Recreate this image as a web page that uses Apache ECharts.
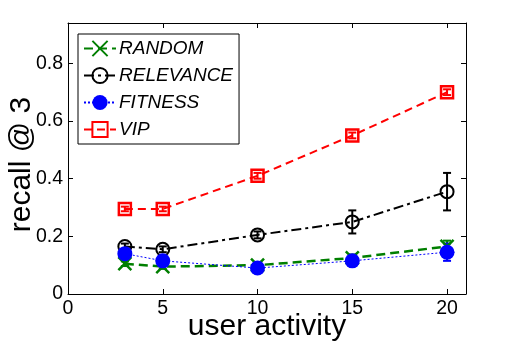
<!DOCTYPE html>
<html>
<head>
<meta charset="utf-8">
<script src="https://cdn.jsdelivr.net/npm/echarts@6/dist/echarts.min.js"></script>
<style>
  html, body { margin: 0; padding: 0; background: #fff; }
  #chart { width: 514px; height: 348px; }
</style>
</head>
<body>
<div id="chart"></div>
<script>
// user activity levels
const activity = [3, 5, 10, 15, 20];

// recall @ 3 per method
const randomVals = [0.105, 0.095, 0.100, 0.125, 0.165];
const relevanceVals = [0.165, 0.155, 0.205, 0.250, 0.355];
const fitnessVals = [0.140, 0.115, 0.090, 0.115, 0.145];
const vipVals = [0.295, 0.295, 0.410, 0.550, 0.700];

// error bar half widths
const randomErr = [0.008, 0.008, 0.008, 0.012, 0.02];
const relevanceErr = [0.01, 0.01, 0.012, 0.04, 0.065];
const fitnessErr = [0.008, 0.008, 0.008, 0.01, 0.03];
const vipErr = [0.008, 0.008, 0.01, 0.01, 0.01];

const FONT = 'Liberation Sans';

function pairs(vals) {
  return activity.map((x, i) => [x, vals[i]]);
}

function errData(vals, err) {
  return activity.map((x, i) => [x, vals[i] - err[i], vals[i] + err[i]]);
}

function errSeries(name, vals, err, color) {
  return {
    name: name,
    type: 'custom',
    z: 1,
    renderItem: function (params, api) {
      const x = api.value(0);
      const lo = api.coord([x, api.value(1)]);
      const hi = api.coord([x, api.value(2)]);
      const w = 4;
      const style = {stroke: color, lineWidth: 2};
      return {
        type: 'group',
        children: [
          {type: 'line', shape: {x1: lo[0], y1: lo[1], x2: hi[0], y2: hi[1]}, style: style},
          {type: 'line', shape: {x1: lo[0] - w, y1: lo[1], x2: lo[0] + w, y2: lo[1]}, style: style},
          {type: 'line', shape: {x1: hi[0] - w, y1: hi[1], x2: hi[0] + w, y2: hi[1]}, style: style},
        ]
      };
    },
    data: errData(vals, err),
    silent: true,
  };
}

const chart = echarts.init(document.getElementById('chart'));

const axisLine = {show: true, onZero: false, lineStyle: {color: '#000', width: 1}};

chart.setOption({
  backgroundColor: '#fff',
  animation: false,
  grid: {left: 68, right: 48, top: 23, bottom: 54, outerBoundsMode: 'none', containLabel: false},
  legend: {
    data: ['RANDOM', 'RELEVANCE', 'FITNESS', 'VIP'],
    orient: 'vertical',
    left: 78,
    top: 34,
    padding: [5, 6, 5, 5],
    itemGap: 8,
    itemWidth: 32,
    itemHeight: 19,
    borderColor: '#000',
    borderWidth: 1,
    backgroundColor: '#fff',
    textStyle: {fontFamily: FONT, fontStyle: 'italic', fontSize: 19, color: '#000', padding: [0, 0, 0, -2]},
  },
  xAxis: [
    {
      type: 'value', min: 0, max: 21, interval: 5,
      name: 'user activity', nameLocation: 'middle', nameGap: 18, nameMoveOverlap: false,
      nameTextStyle: {fontFamily: FONT, fontSize: 30, color: '#000', verticalAlign: 'top'},
      axisLine: axisLine,
      axisTick: {inside: true, length: 5, lineStyle: {color: '#000'}},
      axisLabel: {fontFamily: FONT, fontSize: 19.5, color: '#000', margin: 5, showMaxLabel: false},
      splitLine: {show: false},
    },
    {
      type: 'value', min: 0, max: 21, interval: 5, position: 'top',
      axisLine: axisLine,
      axisTick: {inside: true, length: 5, lineStyle: {color: '#000'}},
      axisLabel: {show: false},
      splitLine: {show: false},
    },
  ],
  yAxis: [
    {
      type: 'value', min: 0, max: 0.94, interval: 0.2,
      name: 'recall @ 3', nameLocation: 'middle', nameGap: 31, nameMoveOverlap: false,
      nameTextStyle: {fontFamily: FONT, fontSize: 30, color: '#000', padding: [0, 12, 0, 0]},
      axisLine: axisLine,
      axisTick: {inside: true, length: 5, lineStyle: {color: '#000'}},
      axisLabel: {fontFamily: FONT, fontSize: 19.5, color: '#000', margin: 5, showMaxLabel: false},
      splitLine: {show: false},
    },
    {
      type: 'value', min: 0, max: 0.94, interval: 0.2, position: 'right',
      axisLine: axisLine,
      axisTick: {inside: true, length: 5, lineStyle: {color: '#000'}},
      axisLabel: {show: false},
      splitLine: {show: false},
    },
  ],
  series: [
    errSeries('randomErr', randomVals, randomErr, '#007f00'),
    errSeries('relevanceErr', relevanceVals, relevanceErr, '#000'),
    errSeries('fitnessErr', fitnessVals, fitnessErr, '#0000ff'),
    errSeries('vipErr', vipVals, vipErr, '#ff0000'),
    {
      name: 'RANDOM', type: 'line', z: 3,
      data: pairs(randomVals),
      symbol: 'path://M0,0L10,10M10,0L0,10',
      symbolSize: 13,
      itemStyle: {color: 'rgba(0,0,0,0)', borderColor: '#007f00', borderWidth: 2.5},
      lineStyle: {color: '#007f00', width: 2.5, type: [9, 5]},
      color: '#007f00',
    },
    {
      name: 'RELEVANCE', type: 'line', z: 4,
      data: pairs(relevanceVals),
      symbol: 'circle',
      symbolSize: 13,
      itemStyle: {color: 'rgba(255,255,255,0)', borderColor: '#000', borderWidth: 2},
      lineStyle: {color: '#000', width: 2, type: [10, 4, 3, 4]},
      color: '#000',
    },
    {
      name: 'FITNESS', type: 'line', z: 5,
      data: pairs(fitnessVals),
      symbol: 'circle',
      symbolSize: 15,
      itemStyle: {color: '#0000ff', borderColor: '#0000ff', borderWidth: 0},
      lineStyle: {color: '#0000ff', width: 1, type: [2, 2]},
      color: '#0000ff',
    },
    {
      name: 'VIP', type: 'line', z: 6,
      data: pairs(vipVals),
      symbol: 'rect',
      symbolSize: 12,
      itemStyle: {color: 'rgba(255,255,255,0)', borderColor: '#ff0000', borderWidth: 2.5},
      lineStyle: {color: '#ff0000', width: 2, type: [8, 5]},
      color: '#ff0000',
    },
  ],
});
window.addEventListener('resize', () => chart.resize());
</script>
</body>
</html>
